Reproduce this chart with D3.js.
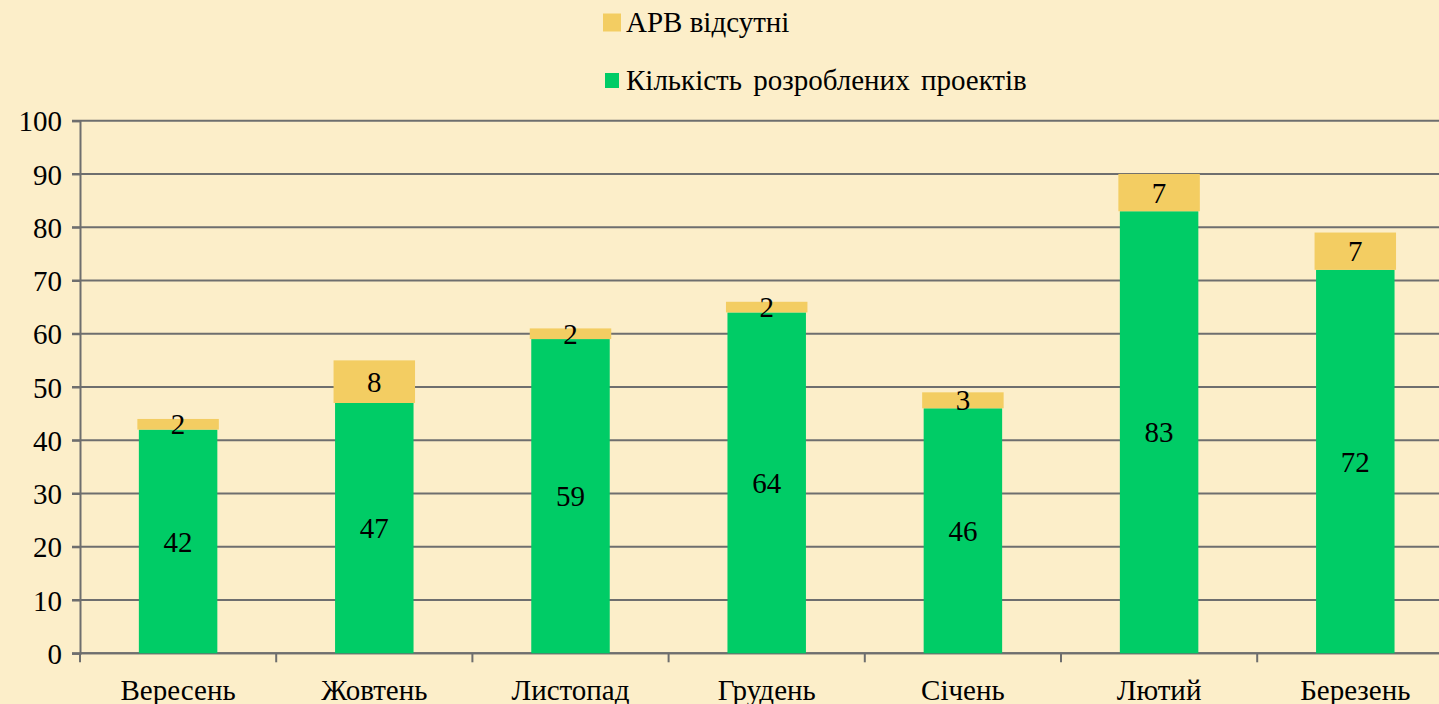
<!DOCTYPE html>
<html><head><meta charset="utf-8">
<script src="https://cdn.jsdelivr.net/npm/d3@7"></script>
<style>
html,body{margin:0;padding:0;background:#FCEEC9;overflow:hidden;}
svg{display:block;}
svg text{font-family:"Times New Roman",Tinos,"Liberation Serif","DejaVu Serif",serif;}
</style></head><body>
<svg id="chart" width="1439" height="704"></svg>
<script>
const categories = ["Вересень","Жовтень","Листопад","Грудень","Січень","Лютий","Березень"];
const projects = [42,47,59,64,46,83,72];
const noArv = [2,8,2,2,3,7,7];
const yTicks = [0,10,20,30,40,50,60,70,80,90,100];
const seriesNames = ["АРВ відсутні","Кількість розроблених проектів"];

const colGreen = "#00CC66", colOrange = "#F3CD62", colGrid = "#6E6E6E";
const FS = 29;
const svg = d3.select("#chart");
const W = 1439, H = 704;
svg.append("rect").attr("width",W).attr("height",H).attr("fill","#FCEEC9");

const m = {left:80, top:120.7, bottom:653.3};
const x = d3.scaleBand().domain(categories).range([m.left, m.left + 7*196.2]).paddingInner(0.6).paddingOuter(0.3);
const y = d3.scaleLinear().domain([0,100]).range([m.bottom, m.top]);

svg.append("g").selectAll("line").data(yTicks).join("line")
  .attr("x1", m.left-8).attr("x2", W+20)
  .attr("y1", d=>y(d)).attr("y2", d=>y(d))
  .attr("stroke", colGrid).attr("stroke-width", 2);

const yAxis = svg.append("g").attr("transform",`translate(${m.left},0)`)
  .call(d3.axisLeft(y).tickValues(yTicks).tickSize(8).tickPadding(10));
yAxis.attr("font-family",null).attr("font-size",null);
yAxis.select(".domain").attr("stroke",colGrid).attr("stroke-width",2);
yAxis.selectAll(".tick line").attr("stroke",colGrid).attr("stroke-width",2);
yAxis.selectAll(".tick text").attr("font-size",FS).attr("fill","#000").attr("dy","0.35em");

const xEdges = d3.range(8).map(i => m.left + i*196.2);
svg.append("g").selectAll("line").data(xEdges).join("line")
  .attr("x1",d=>d).attr("x2",d=>d).attr("y1",m.bottom).attr("y2",m.bottom+9)
  .attr("stroke",colGrid).attr("stroke-width",2);
svg.append("line").attr("x1",m.left).attr("x2",W+20).attr("y1",m.bottom).attr("y2",m.bottom)
  .attr("stroke",colGrid).attr("stroke-width",2);

svg.append("g").selectAll("text").data(categories).join("text")
  .attr("x", d=>x(d)+x.bandwidth()/2).attr("y", 700)
  .attr("text-anchor","middle").attr("font-size",FS).attr("fill","#000")
  .text(d=>d);

const bw = x.bandwidth();
const g = svg.append("g");
categories.forEach((c,i)=>{
  const x0 = x(c);
  g.append("rect").attr("x",x0).attr("width",bw)
    .attr("y",y(projects[i])).attr("height",y(0)-y(projects[i])).attr("fill",colGreen);
  g.append("rect").attr("x",x0-1.5).attr("width",bw+3)
    .attr("y",y(projects[i]+noArv[i])).attr("height",y(projects[i])-y(projects[i]+noArv[i])).attr("fill",colOrange);
});
categories.forEach((c,i)=>{
  const cx = x(c)+bw/2;
  svg.append("text").attr("x",cx).attr("y",(y(0)+y(projects[i]))/2).attr("dy","0.35em")
    .attr("text-anchor","middle").attr("font-size",FS).attr("fill","#000").text(projects[i]);
  svg.append("text").attr("x",cx).attr("y",(y(projects[i])+y(projects[i]+noArv[i]))/2).attr("dy","0.35em")
    .attr("text-anchor","middle").attr("font-size",FS).attr("fill","#000").text(noArv[i]);
});

const lg = svg.append("g");
lg.append("rect").attr("x",603).attr("y",13.5).attr("width",18).attr("height",18).attr("fill",colOrange);
lg.append("text").attr("x",626).attr("y",32).attr("font-size",FS).attr("fill","#000").text(seriesNames[0]);
lg.append("rect").attr("x",605).attr("y",73).attr("width",14).attr("height",15).attr("fill",colGreen);
lg.append("text").attr("x",626).attr("y",90).attr("font-size",FS).attr("fill","#000").attr("word-spacing","4px").text(seriesNames[1]);
</script>
</body></html>
